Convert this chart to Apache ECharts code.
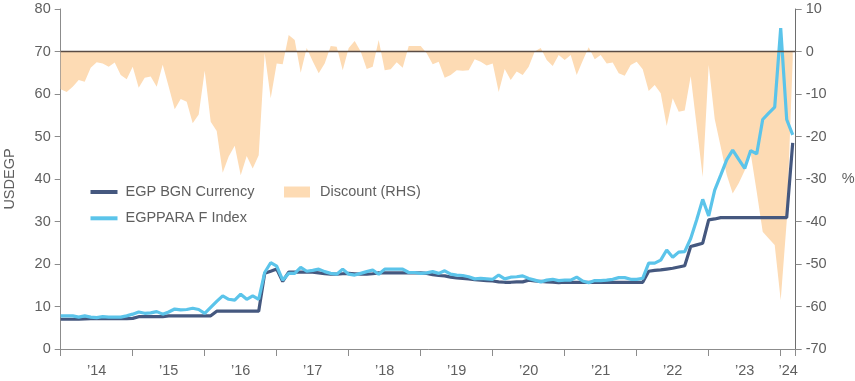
<!DOCTYPE html>
<html><head><meta charset="utf-8">
<script src="https://cdn.jsdelivr.net/npm/echarts@6/dist/echarts.min.js"></script>
<style>html,body{margin:0;padding:0;background:#fff}#c{width:855px;height:381px}</style>
</head><body><div id="c"></div>
<script>
// Monthly observations, Jan 2014 .. Mar 2024
const firstMonth = '2014-01';

const egpBgn = [
 7.0,7.0,7.0,7.0,7.1,7.15,7.15,7.15,7.15,7.15,7.15,7.15,
 7.2,7.6,7.6,7.6,7.6,7.6,7.8,7.8,7.8,7.8,7.8,7.8,
 7.8,7.8,8.9,8.9,8.9,8.9,8.9,8.9,8.9,8.9,17.8,18.3,
 18.8,15.9,18.1,18.1,18.1,18.1,18.1,17.9,17.7,17.6,17.6,17.7,
 17.8,17.7,17.6,17.6,17.7,17.9,17.9,17.9,17.9,17.9,17.9,17.9,
 17.9,17.8,17.5,17.3,17.2,16.9,16.7,16.6,16.5,16.3,16.2,16.1,
 16.0,15.8,15.7,15.7,15.8,15.8,16.2,16.0,15.9,15.8,15.7,15.6,
 15.7,15.7,15.7,15.7,15.7,15.7,15.7,15.7,15.7,15.7,15.7,15.7,
 15.7,15.7,18.3,18.5,18.6,18.8,19.0,19.3,19.6,24.1,24.5,24.9,
 30.4,30.6,30.9,30.9,30.9,30.9,30.9,30.9,30.9,30.9,30.9,30.9,
 30.9,30.9,48.5
];

const egpparaF = [
 7.8,7.8,7.8,7.5,7.8,7.5,7.4,7.6,7.5,7.5,7.5,7.8,
 8.2,8.7,8.4,8.5,8.8,8.2,8.7,9.4,9.2,9.3,9.6,9.3,
 8.4,9.8,11.2,12.5,11.7,11.5,12.9,11.7,12.5,11.7,18.0,20.3,
 19.5,16.2,17.8,17.8,19.2,18.3,18.5,18.8,18.2,17.8,17.6,18.8,
 17.6,17.4,17.8,18.2,18.6,17.6,18.8,18.8,18.8,18.8,18.0,18.0,
 17.8,17.9,18.2,17.8,18.4,17.6,17.4,17.3,17.0,16.5,16.6,16.5,
 16.4,17.4,16.5,16.9,17.0,17.2,16.6,16.2,15.8,16.2,16.4,16.1,
 16.2,16.2,16.9,16.0,15.6,16.1,16.1,16.2,16.4,16.8,16.8,16.4,
 16.4,16.6,20.2,20.2,20.9,23.3,21.6,22.8,22.9,26.0,30.4,35.2,
 31.3,37.4,40.9,44.5,46.8,44.6,42.5,46.7,45.9,54.0,55.5,56.9,
 75.5,54.0,50.4
];

const discount = [
 -8.9,-9.5,-8.3,-6.7,-7.1,-3.8,-2.5,-2.8,-3.6,-2.6,-5.5,-6.5,
 -3.6,-8.5,-6.2,-5.9,-8.3,-3.1,-8.3,-13.6,-11.2,-11.8,-16.9,-14.8,
 -4.5,-16.5,-18.7,-28.5,-24.7,-22.2,-29.1,-24.6,-27.5,-24.4,-0.4,-11.0,
 -2.8,-3.0,3.9,2.7,-5.0,0.8,-2.3,-5.1,-2.8,1.3,1.1,-4.4,
 0.8,2.5,0.0,-4.1,-3.6,2.7,-4.4,-4.2,-2.5,-3.8,1.3,1.3,
 1.3,-0.4,-3.0,-2.4,-6.2,-5.5,-4.4,-4.5,-4.4,-1.8,-2.4,-3.3,
 -2.8,-9.5,-4.1,-6.7,-4.7,-5.5,-3.6,0.0,0.8,-2.0,-3.4,-0.8,
 -2.0,-0.8,-5.5,-2.2,1.0,-1.8,-0.8,-2.8,-2.6,-5.1,-5.7,-3.2,
 -2.4,-4.2,-9.3,-7.9,-9.8,-17.5,-11.0,-14.2,-13.9,-5.8,-17.6,-29.5,
 -3.2,-15.9,-22.4,-29.0,-33.4,-31.0,-28.0,-24.0,-33.0,-42.4,-44.0,-45.5,
 -58.5,-40.0,-2.0
];

const yearLabels = ['’14','’15','’16','’17','’18','’19','’20','’21','’22','’23','’24'];
const axisEndMonths = 122.5;

const FONT = "'Liberation Sans',Arial,sans-serif";
const FS = 14.5;
const TXT = '#5f5f5f';

const pairs = arr => arr.map((v, i) => [i, v]); // i = months since firstMonth

const yearTicks = yearLabels.map((_, k) => k * 12).concat([axisEndMonths]);
const labelPos = yearLabels.map((_, k) => (yearTicks[k] + yearTicks[k + 1]) / 2);

const chart = echarts.init(document.getElementById('c'), null, {renderer: 'canvas'});
chart.setOption({
  animation: false,
  backgroundColor: '#fff',
  textStyle: {fontFamily: FONT},
  grid: {left: 60.7, right: 59.3, top: 9, bottom: 32, containLabel: false, outerBoundsMode: 'none'},
  legend: [
    {
      data: [{name: 'EGP BGN Currency', icon: 'rect'}, {name: 'EGPPARA F Index', icon: 'rect'}],
      orient: 'vertical', left: 90.5, top: 184, padding: 0, itemWidth: 27, itemHeight: 4, itemGap: 10.3,
      textStyle: {fontFamily: FONT, fontSize: FS, color: TXT, lineHeight: 16, padding: [0, 0, 0, 3]},
      selectedMode: false
    },
    {
      data: [{name: 'Discount (RHS)', icon: 'rect'}],
      orient: 'vertical', left: 284, top: 184, padding: 0, itemWidth: 26, itemHeight: 11,
      textStyle: {fontFamily: FONT, fontSize: FS, color: TXT, lineHeight: 16, padding: [0, 0, 0, 5]},
      selectedMode: false
    }
  ],
  xAxis: {
    type: 'value', min: 0, max: axisEndMonths,
    axisLine: {show: true, lineStyle: {color: '#8c8c8c', width: 1}},
    axisTick: {show: true, length: 7, lineStyle: {color: '#8c8c8c'}, customValues: yearTicks},
    axisLabel: {show: true, customValues: labelPos, margin: 14, color: TXT, fontSize: FS, fontFamily: FONT,
      formatter: v => { const k = labelPos.indexOf(v); return k >= 0 ? yearLabels[k] : ''; }},
    splitLine: {show: false}
  },
  yAxis: [
    {
      type: 'value', min: 0, max: 80, interval: 10, position: 'left',
      name: 'USDEGP', nameLocation: 'middle', nameGap: 43, nameRotate: 90,
      nameTextStyle: {color: TXT, fontSize: FS, fontFamily: FONT},
      axisLine: {show: true, lineStyle: {color: '#8c8c8c'}},
      axisTick: {show: true, length: 6, lineStyle: {color: '#8c8c8c'}},
      axisLabel: {color: TXT, fontSize: FS, fontFamily: FONT, margin: 10},
      splitLine: {show: false}
    },
    {
      type: 'value', min: -70, max: 10, interval: 10, position: 'right',
      name: '%', nameLocation: 'middle', nameGap: 46, nameRotate: 0,
      nameTextStyle: {color: TXT, fontSize: FS, fontFamily: FONT},
      axisLine: {show: true, lineStyle: {color: '#6e6e6e'}},
      axisTick: {show: true, length: 6, lineStyle: {color: '#8c8c8c'}},
      axisLabel: {color: TXT, fontSize: FS, fontFamily: FONT, margin: 10},
      splitLine: {show: false}
    }
  ],
  series: [
    {
      name: 'Discount (RHS)', type: 'line', yAxisIndex: 1, data: pairs(discount),
      symbol: 'none', color: '#fddbb4',
      itemStyle: {color: '#fddbb4'},
      lineStyle: {width: 0, color: '#fddbb4'},
      areaStyle: {color: '#fddbb4', opacity: 1},
      z: 1,
      markLine: {
        silent: true, symbol: ['none', 'none'], label: {show: false},
        lineStyle: {color: '#5a4c44', width: 1.3, type: 'solid'},
        data: [{yAxis: 0}]
      }
    },
    {
      name: 'EGP BGN Currency', type: 'line', yAxisIndex: 0, data: pairs(egpBgn),
      symbol: 'none', color: '#45587f', itemStyle: {color: '#45587f'},
      lineStyle: {width: 3.2, color: '#45587f'}, z: 3
    },
    {
      name: 'EGPPARA F Index', type: 'line', yAxisIndex: 0, data: pairs(egpparaF),
      symbol: 'none', color: '#5bc4ea', itemStyle: {color: '#5bc4ea'},
      lineStyle: {width: 3.2, color: '#5bc4ea'}, z: 4
    }
  ]
});
</script>
</body></html>
